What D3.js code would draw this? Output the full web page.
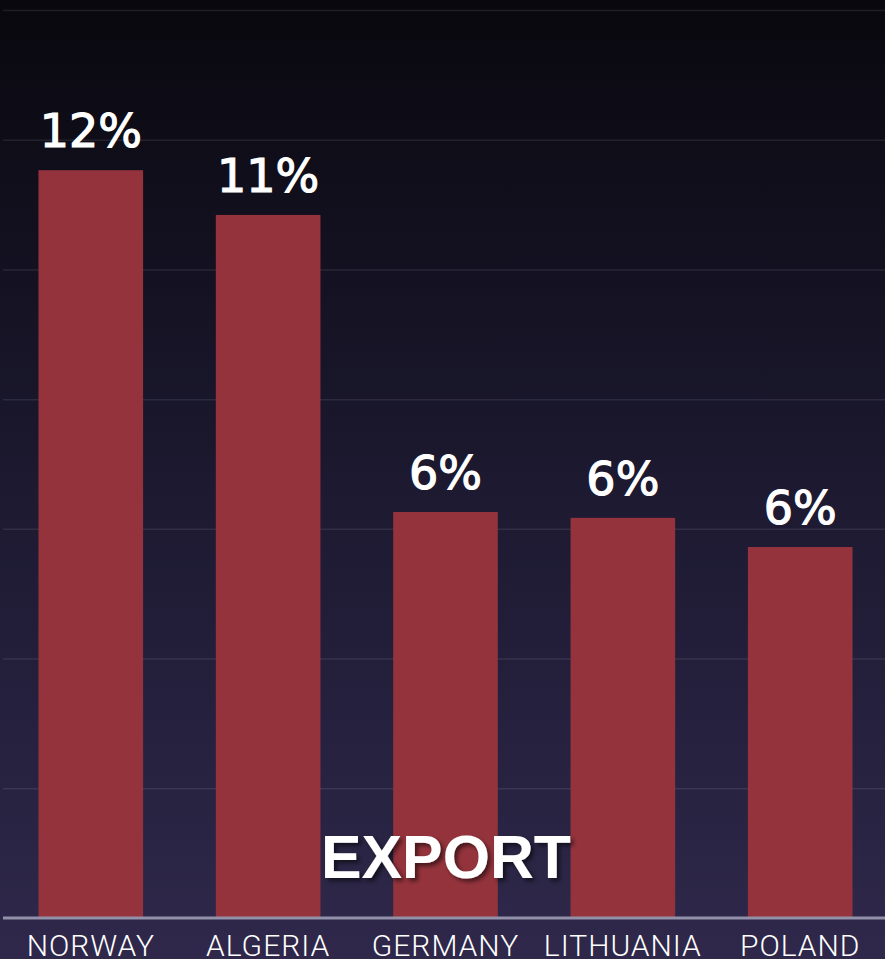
<!DOCTYPE html>
<html>
<head>
    <title>Export</title>
    <script src="https://d3js.org/d3.v7.min.js"></script>
    <style>
        body { margin: 0; background: #0a0a10; }
    </style>
</head>
<body>
    <svg width="885" height="959" id="mainSvg"></svg>
    <script>
        const countries = ["NORWAY", "ALGERIA", "GERMANY", "LITHUANIA", "POLAND"];
        const exportShare = [11.53, 10.84, 6.26, 6.17, 5.72];
        const gridTicks = [0, 2, 4, 6, 8, 10, 12, 14];
        const title = "EXPORT";

        const data = countries.map((c, i) => ({ country: c, value: exportShare[i] }));

        const svg = d3.select("#mainSvg");
        const width = +svg.attr("width");
        const height = +svg.attr("height");
        const margin = { top: 10, right: 0, bottom: 41, left: 3 };
        const innerWidth = width - margin.left - margin.right;
        const innerHeight = height - margin.top - margin.bottom;

        const defs = svg.append("defs");
        const grad = defs.append("linearGradient")
            .attr("id", "bg")
            .attr("x1", 0).attr("y1", 0).attr("x2", 0).attr("y2", 1);
        grad.append("stop").attr("offset", "0%").attr("stop-color", "#09080e");
        grad.append("stop").attr("offset", "50%").attr("stop-color", "#1c1930");
        grad.append("stop").attr("offset", "100%").attr("stop-color", "#2f284b");

        const shadow = defs.append("filter").attr("id", "shadow")
            .attr("x", "-10%").attr("y", "-10%").attr("width", "130%").attr("height", "140%");
        shadow.append("feDropShadow")
            .attr("dx", 3).attr("dy", 3).attr("stdDeviation", 2)
            .attr("flood-color", "#000").attr("flood-opacity", 0.55);

        svg.append("rect")
            .attr("width", width).attr("height", height)
            .attr("fill", "url(#bg)");

        const g = svg.append("g")
            .attr("transform", `translate(${margin.left}, ${margin.top})`);

        const xScale = d3.scaleBand()
            .domain(countries)
            .range([0, innerWidth + 3])
            .paddingInner(0.41)
            .paddingOuter(0.2);

        const yScale = d3.scaleLinear()
            .domain([0, 14])
            .range([innerHeight, 0]);

        // grid lines
        const yAxis = d3.axisLeft(yScale)
            .tickValues(gridTicks.slice(1))
            .tickSize(-innerWidth)
            .tickFormat("");
        const yAxisGroup = g.append("g").call(yAxis);
        yAxisGroup.select(".domain").remove();
        yAxisGroup.selectAll(".tick line")
            .attr("stroke", "#ffffff")
            .attr("stroke-opacity", 0.09)
            .attr("stroke-width", 1.5);

        // bars
        g.selectAll(".bar")
            .data(data)
            .join("rect")
            .attr("class", "bar")
            .attr("x", d => xScale(d.country))
            .attr("y", d => yScale(d.value))
            .attr("width", xScale.bandwidth())
            .attr("height", d => yScale(0) - yScale(d.value))
            .attr("fill", "#94333c");

        // value labels
        g.selectAll(".valueLabel")
            .data(data)
            .join("text")
            .attr("class", "valueLabel")
            .attr("x", d => xScale(d.country) + xScale.bandwidth() / 2)
            .attr("y", d => yScale(d.value) - 23)
            .attr("text-anchor", "middle")
            .attr("fill", "#ffffff")
            .attr("stroke", "#ffffff")
            .attr("stroke-width", 1.2)
            .style("font-family", "'DejaVu Sans', sans-serif")
            .style("font-size", "46px")
            .text(d => Math.round(d.value) + "%");

        // x axis
        const xAxis = d3.axisBottom(xScale).tickSize(0).tickPadding(0);
        const xAxisGroup = g.append("g")
            .attr("transform", `translate(0, ${innerHeight})`)
            .call(xAxis);
        xAxisGroup.select(".domain")
            .attr("stroke", "#9390aa")
            .attr("stroke-width", 3)
            .attr("d", `M0,0H${innerWidth}`);
        xAxisGroup.selectAll(".tick text")
            .attr("fill", "#ffffff")
            .attr("y", 38)
            .attr("dy", 0)
            .style("font-family", "Roboto, sans-serif")
            .style("font-weight", 300)
            .style("letter-spacing", "1px")
            .style("font-size", "30px");

        // title
        svg.append("text")
            .attr("x", 446)
            .attr("y", 878)
            .attr("text-anchor", "middle")
            .attr("fill", "#ffffff")
            .attr("filter", "url(#shadow)")
            .style("font-family", "'Liberation Sans', Arial, sans-serif")
            .style("font-weight", "bold")
            .style("font-size", "62px")
            .attr("textLength", 250)
            .attr("lengthAdjust", "spacingAndGlyphs")
            .text(title);
    </script>
</body>
</html>
